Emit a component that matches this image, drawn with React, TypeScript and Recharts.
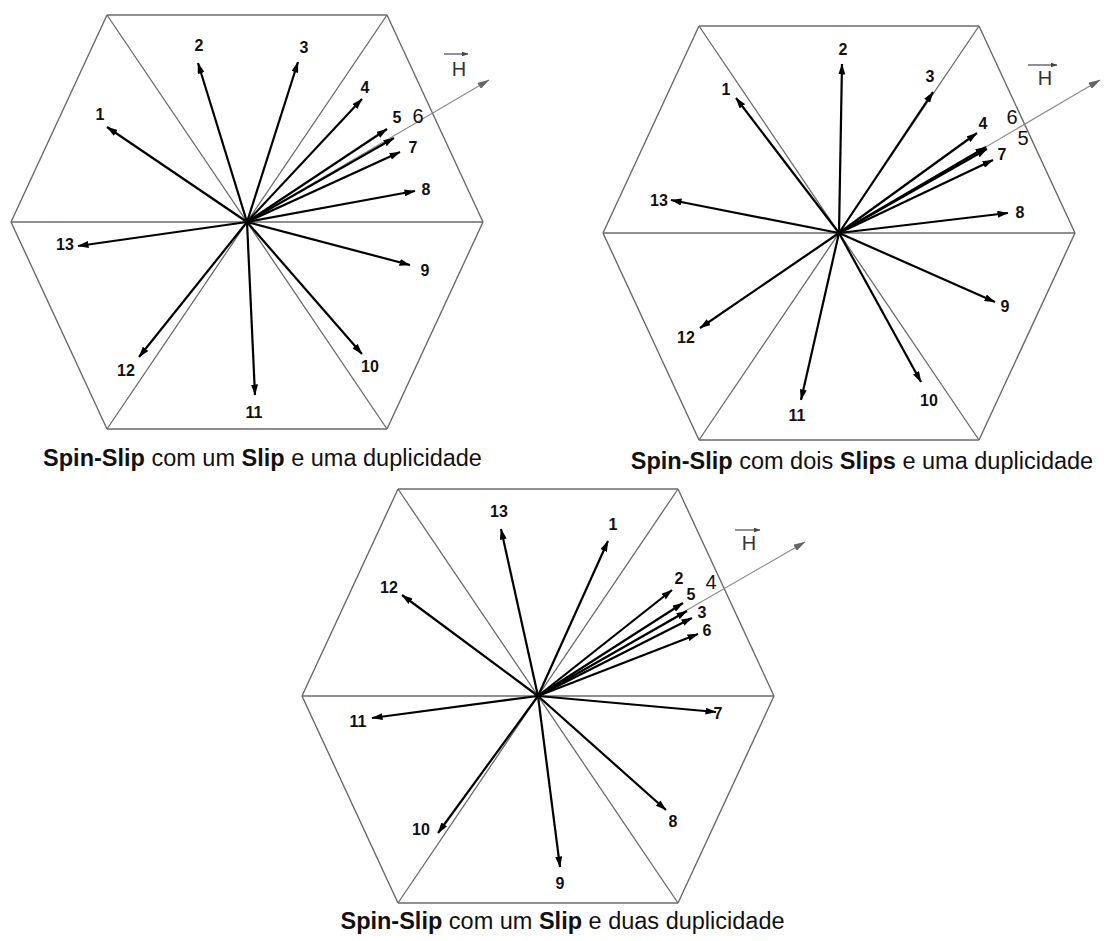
import React from 'react';
import { ScatterChart, XAxis, YAxis, ReferenceLine, Scatter } from 'recharts';

// Hexagon outline (units: px relative to hexagon centre, y up)
const HEX_X = [-140, 140, 236, 140, -140, -236];
const HEX_Y = [207, 207, 0, -207, -207, 0];

const IDS = ['1', '2', '3', '4', '5', '6', '7', '8', '9', '10', '11', '12', '13'];

// Panel 1: Spin-Slip com um Slip e uma duplicidade
const P1_CENTER = [246.5, 222];
const P1_TIPS = [[-140, 95], [-49, 159], [51, 160], [115, 123], [140, 93], [147, 84], [153, 70], [168, 31], [163, -43], [115, -132], [8, -173], [-108, -135], [-169, -24]];
const P1_LABELS = [[-147, 108], [-48, 177], [57, 175], [118, 135], [150, 105], [171, 106], [166, 75], [179, 33], [178, -48], [123, -144], [7, -190], [-121, -148], [-182, -22]];
const P1_BIG = ['6'];
const P1_H_TIP = [242, 142];
const P1_H_LABEL = [212, 153];
const P1_H_BAR = [197, 221, 168];
const P1_CAPTION = ['Spin-Slip', ' com um ', 'Slip', ' e uma duplicidade'];

// Panel 2: Spin-Slip com dois Slips e uma duplicidade
const P2_CENTER = [839, 232.5];
const P2_TIPS = [[-103, 135], [3, 169], [94, 141], [138, 100], [148, 84], [147, 86], [154, 73], [169, 20], [156, -69], [82, -149], [-38, -167], [-139, -95], [-168, 33]];
const P2_LABELS = [[-113, 144], [4, 184], [91, 157], [144, 110], [184, 95], [173, 116], [163, 79], [181, 21], [166, -73], [90, -167], [-42, -182], [-153, -104], [-180, 33]];
const P2_BIG = ['5', '6'];
const P2_H_TIP = [261, 153];
const P2_H_LABEL = [206, 155];
const P2_H_BAR = [189, 218, 168];
const P2_CAPTION = ['Spin-Slip', ' com dois ', 'Slips', ' e uma duplicidade'];

// Panel 3: Spin-Slip com um Slip e duas duplicidade
const P3_CENTER = [537.5, 696];
const P3_TIPS = [[70, 155], [134, 106], [154, 78], [149, 85], [145, 93], [160, 62], [178, -16], [128, -114], [22, -171], [-100, -137], [-166, -22], [-136, 101], [-37, 167]];
const P3_LABELS = [[75, 172], [141, 118], [164, 84], [173, 114], [153, 102], [169, 66], [180, -17], [135, -125], [22, -187], [-117, -133], [-180, -25], [-149, 109], [-39, 185]];
const P3_BIG = ['4'];
const P3_H_TIP = [267, 154];
const P3_H_LABEL = [211, 153];
const P3_H_BAR = [197, 222, 166];
const P3_CAPTION = ['Spin-Slip', ' com um ', 'Slip', ' e duas duplicidade'];

const CAPTION_POS = [[262.5, 447], [862, 450], [562.5, 910]];

const XR = 290;
const YR = 245;
const FONT = '"Liberation Sans", Arial, Helvetica, sans-serif';

type Pt = number[];

interface PanelProps {
  center: Pt;
  tips: Pt[];
  labels: Pt[];
  big: string[];
  hTip: Pt;
  hLabel: Pt;
  hBar: Pt;
}

const renderLabel = (p: any) => {
  const d = p.payload;
  if (d.kind === 'H') {
    return (
      <text x={p.cx} y={p.cy} textAnchor="middle" dominantBaseline="central" fontSize={20} fontFamily={FONT} fill="#333">
        H
      </text>
    );
  }
  return (
    <text
      x={p.cx}
      y={p.cy}
      textAnchor="middle"
      dominantBaseline="central"
      fontSize={d.big ? 20 : 16}
      fontWeight={d.big ? 'normal' : 'bold'}
      fontFamily={FONT}
      fill="#111"
    >
      {d.text}
    </text>
  );
};

const Panel = ({ center, tips, labels, big, hTip, hLabel, hBar }: PanelProps) => {
  const edges = HEX_X.map((x, i) => [
    { x, y: HEX_Y[i] },
    { x: HEX_X[(i + 1) % 6], y: HEX_Y[(i + 1) % 6] },
  ]);
  const diags = [0, 1, 2].map((i) => [
    { x: HEX_X[i], y: HEX_Y[i] },
    { x: HEX_X[i + 3], y: HEX_Y[i + 3] },
  ]);
  const labelData: any[] = IDS.map((id, i) => ({ x: labels[i][0], y: labels[i][1], text: id, big: big.includes(id) }));
  labelData.push({ x: hLabel[0], y: hLabel[1], text: 'H', kind: 'H' });
  return (
    <div style={{ position: 'absolute', left: center[0] - XR, top: center[1] - YR }}>
      <ScatterChart width={2 * XR} height={2 * YR} margin={{ top: 0, right: 0, bottom: 0, left: 0 }}>
        <XAxis type="number" dataKey="x" domain={[-XR, XR]} hide allowDataOverflow />
        <YAxis type="number" dataKey="y" domain={[-YR, YR]} hide allowDataOverflow />
        {edges.map((s, i) => (
          <ReferenceLine key={'e' + i} segment={s} stroke="#6a6a6a" strokeWidth={1.4} ifOverflow="visible" />
        ))}
        {diags.map((s, i) => (
          <ReferenceLine key={'d' + i} segment={s} stroke="#6a6a6a" strokeWidth={1.3} ifOverflow="visible" />
        ))}
        <ReferenceLine
          segment={[{ x: 0, y: 0 }, { x: hTip[0], y: hTip[1] }]}
          stroke="#8a8a8a"
          strokeWidth={1.1}
          markerEnd="url(#arrowH)"
          ifOverflow="visible"
        />
        {tips.map((t, i) => (
          <ReferenceLine
            key={'a' + i}
            segment={[{ x: 0, y: 0 }, { x: t[0], y: t[1] }]}
            stroke="#000"
            strokeWidth={2.2}
            markerEnd="url(#arrowK)"
            ifOverflow="visible"
          />
        ))}
        <ReferenceLine
          segment={[{ x: hBar[0], y: hBar[2] }, { x: hBar[1], y: hBar[2] }]}
          stroke="#555"
          strokeWidth={1.3}
          markerEnd="url(#arrowS)"
          ifOverflow="visible"
        />
        <Scatter data={labelData} isAnimationActive={false} shape={renderLabel} />
      </ScatterChart>
    </div>
  );
};

const Caption = ({ parts, pos }: { parts: string[]; pos: Pt }) => (
  <div
    style={{
      position: 'absolute',
      left: pos[0] - 300,
      top: pos[1],
      width: 600,
      textAlign: 'center',
      fontFamily: FONT,
      fontSize: 23.5,
      lineHeight: 1,
      color: '#111',
      whiteSpace: 'pre',
    }}
  >
    {parts.map((t, i) => (
      <span key={i} style={{ fontWeight: i % 2 === 0 ? 'bold' : 'normal' }}>
        {t}
      </span>
    ))}
  </div>
);

export default function App() {
  return (
    <div style={{ position: 'absolute', left: 0, top: 0, width: 1104, height: 941, overflow: 'hidden', background: '#fff' }}>
      <svg width={0} height={0} style={{ position: 'absolute' }}>
        <defs>
          <marker id="arrowK" viewBox="0 0 11 7" refX={10.5} refY={3.5} markerWidth={11} markerHeight={7} markerUnits="userSpaceOnUse" orient="auto">
            <path d="M0,0 L11,3.5 L0,7 Z" fill="#000" />
          </marker>
          <marker id="arrowH" viewBox="0 0 12 7" refX={11.5} refY={3.5} markerWidth={12} markerHeight={7} markerUnits="userSpaceOnUse" orient="auto">
            <path d="M0,0 L12,3.5 L0,7 Z" fill="#666" />
          </marker>
          <marker id="arrowS" viewBox="0 0 7 5" refX={6.5} refY={2.5} markerWidth={7} markerHeight={5} markerUnits="userSpaceOnUse" orient="auto">
            <path d="M0,0 L7,2.5 L0,5 Z" fill="#444" />
          </marker>
        </defs>
      </svg>
      <Panel center={P1_CENTER} tips={P1_TIPS} labels={P1_LABELS} big={P1_BIG} hTip={P1_H_TIP} hLabel={P1_H_LABEL} hBar={P1_H_BAR} />
      <Panel center={P2_CENTER} tips={P2_TIPS} labels={P2_LABELS} big={P2_BIG} hTip={P2_H_TIP} hLabel={P2_H_LABEL} hBar={P2_H_BAR} />
      <Panel center={P3_CENTER} tips={P3_TIPS} labels={P3_LABELS} big={P3_BIG} hTip={P3_H_TIP} hLabel={P3_H_LABEL} hBar={P3_H_BAR} />
      <Caption parts={P1_CAPTION} pos={CAPTION_POS[0]} />
      <Caption parts={P2_CAPTION} pos={CAPTION_POS[1]} />
      <Caption parts={P3_CAPTION} pos={CAPTION_POS[2]} />
    </div>
  );
}
